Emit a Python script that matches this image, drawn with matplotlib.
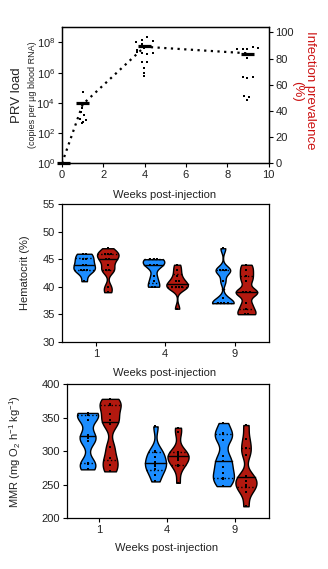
import numpy as np
import matplotlib
matplotlib.use("Agg")
from matplotlib import pyplot as plt

plt.rcParams['font.family'] = ['Liberation Sans', 'DejaVu Sans']
plt.rcParams['mathtext.default'] = 'regular'
plt.rcParams['font.size'] = 8

BLUE = '#1C8DFF'
RED = '#B2190F'
TXT = '#222222'

# ---- PRV load (copies per ug blood RNA) ----
wk1_x = [1.03, 0.98, 0.92, 1.05, 0.85, 1.15, 1.02, 0.95]
wk1_load = [4.9e4, 4.3e3, 2.6e3, 1.5e3, 8.1e2, 7.1e2, 5.6e2, 4.4e2]
wk4_x = [4.13, 3.89, 3.58, 3.89, 4.39, 3.61, 3.97, 3.61, 3.89, 4.13, 4.42, 3.89, 4.13, 3.98, 3.98, 3.98]
wk4_load = [2.3e8, 1.4e8, 1.0e8, 7.8e7, 1.3e8, 3.1e7, 4.2e7, 2.4e7, 1.9e7, 1.7e7, 1.9e7,
            5.2e6, 4.8e6, 1.9e6, 8.9e5, 5.9e5]
wk9_x = [8.48, 8.74, 8.96, 9.26, 9.50, 8.96, 8.74, 8.96, 9.26, 8.81, 9.06, 8.94]
wk9_load = [3.5e7, 3.5e7, 3.8e7, 4.7e7, 4.0e7, 1.0e7, 5.4e5, 4.2e5, 4.9e5, 2.8e4, 2.3e4, 1.5e4]
median_weeks = [0.07, 1.0, 4.0, 8.97]
median_load = [1.0, 9.5e3, 5.8e7, 1.7e7]

prev_weeks = [0, 1, 4, 9]
prevalence = [0, 45, 89, 84]

# ---- Hematocrit (%) ----
weeks = ['1', '4', '9']
hct_ctrl = [[41, 43, 43, 43, 44, 44, 45, 45, 46, 46],
            [40, 40, 41, 42, 44, 44, 44, 45, 45, 45],
            [37, 37, 37, 37, 38, 41, 43, 43, 43, 47]]
hct_prv = [[39, 40, 43, 43, 44, 45, 45, 46, 46, 46, 47],
           [36, 40, 40, 40, 40, 41, 41, 42, 43, 44],
           [35, 35, 36, 37, 39, 39, 39, 41, 42, 43, 44]]

# ---- MMR (mg O2 h-1 kg-1) ----
mmr_ctrl = [[273, 281, 282, 315, 320, 324, 347, 354, 355, 357],
            [255, 265, 274, 278, 280, 284, 292, 299, 300, 337],
            [248, 258, 260, 268, 277, 285, 293, 316, 325, 327, 342]]
mmr_prv = [[270, 280, 290, 307, 340, 346, 356, 369, 370, 378],
           [253, 278, 280, 287, 290, 293, 295, 297, 299, 328, 335],
           [218, 240, 246, 250, 255, 261, 263, 295, 305, 318, 339]]


def style_axis(ax):
    for s in ax.spines.values():
        s.set_linewidth(0.9)
    ax.tick_params(direction='out', length=3, width=0.8, labelsize=8, colors='black',
                   labelcolor=TXT, pad=2)


def violin(ax, vals, pos, color, bw, halfw=0.155):
    vals = np.asarray(vals, float)
    grid = np.linspace(vals.min(), vals.max(), 300)
    dens = np.exp(-0.5 * ((grid[:, None] - vals[None, :]) / bw) ** 2).sum(1)
    w = dens / dens.max() * halfw
    ax.fill_betweenx(grid, pos - w, pos + w, facecolor=color, edgecolor='black', lw=1, zorder=2)
    q1, med, q3 = np.percentile(vals, [25, 50, 75], method='weibull')
    for q, ls in ((med, '-'), (q1, ':'), (q3, ':')):
        wq = np.interp(q, grid, w)
        ax.plot([pos - wq, pos + wq], [q, q], color='black', ls=ls, lw=1, zorder=3)
    # points, ties spread sideways
    for v in np.unique(vals):
        k = int((vals == v).sum())
        offs = (np.arange(k) - (k - 1) / 2) * 0.045
        ax.plot(pos + offs, [v] * k, 's', color='black', ms=1.6, mew=0, zorder=4)


fig = plt.figure(figsize=(3.28, 5.69), dpi=100)

# ---------------- panel 1 ----------------
ax1 = fig.add_axes([0.189, 0.713, 0.630, 0.240])
ax1.set_yscale('log')
ax1.set_xlim(0, 10)
ax1.set_ylim(1, 1.1e9)
ax1.set_yticks([1, 1e2, 1e4, 1e6, 1e8])
ax1.yaxis.set_minor_locator(matplotlib.ticker.NullLocator())
ax1.set_xticks([0, 2, 4, 6, 8, 10])
style_axis(ax1)
for xs, ys in ((wk1_x, wk1_load), (wk4_x, wk4_load), (wk9_x, wk9_load)):
    ax1.plot(xs, ys, 's', color='black', ms=2.0, mew=0, zorder=3)
for xm, ym in zip(median_weeks, median_load):
    ax1.plot([xm - 0.33, xm + 0.33], [ym, ym], color='black', lw=2.3,
             solid_capstyle='butt', clip_on=False, zorder=4)
ax1.set_xlabel('Weeks post-injection', fontsize=8, color=TXT)
ax1.xaxis.set_label_coords(0.496, -0.195)
ax1.text(-0.218, 0.5, 'PRV load', transform=ax1.transAxes, rotation=90,
         ha='center', va='center', fontsize=9.5, color=TXT)
ax1.text(-0.145, 0.5, '(copies per µg blood RNA)', transform=ax1.transAxes, rotation=90,
         ha='center', va='center', fontsize=6.5, color=TXT)

ax1r = ax1.twinx()
ax1r.set_ylim(0, 104.3)
ax1r.set_yticks([0, 20, 40, 60, 80, 100])
style_axis(ax1r)
ax1r.plot(prev_weeks, prevalence, color='black', lw=1.6, ls=(0, (1.0, 2.0)), zorder=2)
ax1r.text(1.2, 0.536, 'Infection prevalence', transform=ax1r.transAxes, rotation=270,
          ha='center', va='center', fontsize=9.5, color='#CC1111')
ax1r.text(1.14, 0.525, '(%)', transform=ax1r.transAxes, rotation=270,
          ha='center', va='center', fontsize=9.5, color='#CC1111')

# ---------------- panel 2 ----------------
ax2 = fig.add_axes([0.189, 0.3995, 0.630, 0.2415])
for i in range(len(weeks)):
    violin(ax2, hct_ctrl[i], i - 0.17, BLUE, bw=0.75)
    violin(ax2, hct_prv[i], i + 0.17, RED, bw=0.75)
ax2.set_xlim(-0.49, 2.49)
ax2.set_ylim(30, 55)
ax2.set_yticks(range(30, 56, 5))
ax2.set_xticks(range(len(weeks)))
ax2.set_xticklabels(weeks)
style_axis(ax2)
ax2.set_xlabel('Weeks post-injection', fontsize=8, color=TXT)
ax2.xaxis.set_label_coords(0.496, -0.19)
ax2.set_ylabel('Hematocrit (%)', fontsize=8, color=TXT)
ax2.yaxis.set_label_coords(-0.155, 0.5)

# ---------------- panel 3 ----------------
ax3 = fig.add_axes([0.203, 0.089, 0.616, 0.236])
for i in range(len(weeks)):
    violin(ax3, mmr_ctrl[i], i - 0.166, BLUE, bw=10)
    violin(ax3, mmr_prv[i], i + 0.166, RED, bw=10)
ax3.set_xlim(-0.475, 2.5)
ax3.set_ylim(200, 400)
ax3.set_yticks(range(200, 401, 50))
ax3.set_xticks(range(len(weeks)))
ax3.set_xticklabels(weeks)
style_axis(ax3)
ax3.set_xlabel('Weeks post-injection', fontsize=8, color=TXT)
ax3.xaxis.set_label_coords(0.496, -0.184)
ax3.set_ylabel('MMR (mg O$_2$ h$^{-1}$ kg$^{-1}$)', fontsize=8, color=TXT)
ax3.yaxis.set_label_coords(-0.218, 0.5)

fig.savefig('out.png', dpi=100)
